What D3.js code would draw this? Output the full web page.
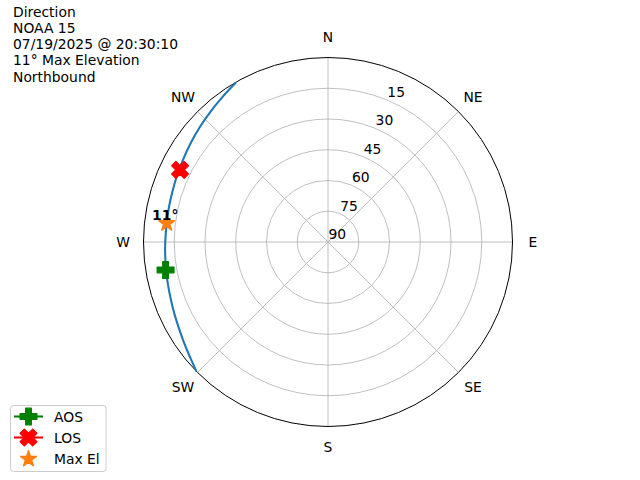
<!DOCTYPE html>
<html><head><meta charset="utf-8">
<script src="https://cdn.jsdelivr.net/npm/d3@7"></script>
<style>body{margin:0;background:#fff} text{font-family:"DejaVu Sans",sans-serif;fill:#000}</style>
</head><body><svg id="c" width="640" height="480"></svg>
<script>
// ---- data ----
const titleLines = ["Direction", "NOAA 15", "07/19/2025 @ 20:30:10", "11° Max Elevation", "Northbound"];
const directions = ["N", "NE", "E", "SE", "S", "SW", "W", "NW"];
const directionAz = [0, 45, 90, 135, 180, 225, 270, 315];
const ringEl = [90, 75, 60, 45, 30, 15];
const trackAz = [225.5, 230, 235, 240, 245, 250, 255, 260, 265, 270, 276, 282, 288, 294, 300, 306, 312, 318, 324, 330];
const trackEl = [0, 2.3, 4.3, 6.0, 7.3, 8.4, 9.2, 9.8, 10.3, 10.6, 10.8, 10.6, 10.2, 9.5, 8.6, 7.4, 6.0, 4.4, 2.5, 0.2];
const markerNames = ["AOS", "LOS", "Max El"];
const markerAz = [260.2, 296.0, 276.6];
const markerEl = [9.6, 9.7, 10.8];
const maxElLabel = "11°";

// ---- layout ----
const W = 640, H = 480, cx = 328, cy = 242, R = 184.5;
const svg = d3.select("#c");
const rScale = d3.scaleLinear().domain([90, 0]).range([0, R]);
const aScale = d3.scaleLinear().domain([0, 360]).range([0, 2 * Math.PI]);
const px = (az, el) => cx + rScale(el) * Math.sin(aScale(az));
const py = (az, el) => cy - rScale(el) * Math.cos(aScale(az));
const ms = 12 * 100 / 72; // marker size px
const mew = 1.39;

const plusPath = (() => { const p = [[-1,-3],[1,-3],[1,-1],[3,-1],[3,1],[1,1],[1,3],[-1,3],[-1,1],[-3,1],[-3,-1],[-1,-1]].map(d => [d[0]/6*ms, d[1]/6*ms]); return "M" + p.join("L") + "Z"; })();
const xPath = (() => { const p = [[-1,-2],[0,-1],[1,-2],[2,-1],[1,0],[2,1],[1,2],[0,1],[-1,2],[-2,1],[-1,0],[-2,-1]].map(d => [d[0]/4*ms, d[1]/4*ms]); return "M" + p.join("L") + "Z"; })();
const starPath = (() => { const p = []; const ro = ms/2, ri = ro*0.381966; for (let i = 0; i < 10; i++) { const r = i % 2 ? ri : ro; const a = i * Math.PI / 5; p.push([r*Math.sin(a), -r*Math.cos(a)]); } return "M" + p.join("L") + "Z"; })();
const markerPaths = [plusPath, xPath, starPath];
const markerColors = ["#008000", "#ff0000", "#ff7f0e"];
const hasLine = [true, true, false];

const g = svg.append("g");
// rings
g.selectAll("circle.ring").data(ringEl.filter(e => e < 90 && e > 0)).enter().append("circle")
  .attr("cx", cx).attr("cy", cy).attr("r", d => rScale(d))
  .attr("fill", "none").attr("stroke", "#b0b0b0").attr("stroke-width", 0.8);
// spokes
g.selectAll("line.spoke").data(directionAz).enter().append("line")
  .attr("x1", cx).attr("y1", cy).attr("x2", d => px(d, 0)).attr("y2", d => py(d, 0))
  .attr("stroke", "#b0b0b0").attr("stroke-width", 0.8);
// outer circle
g.append("circle").attr("cx", cx).attr("cy", cy).attr("r", R).attr("fill", "none").attr("stroke", "#000").attr("stroke-width", 1);
// ring labels
g.selectAll("text.rl").data(ringEl).enter().append("text")
  .attr("x", d => px(22.5, d) + 0.5).attr("y", d => py(22.5, d) - 3)
  .attr("font-size", "13.89px").text(d => d);
// direction labels
g.selectAll("text.dir").data(directions).enter().append("text")
  .attr("x", (d, i) => cx + (R + 20.5) * Math.sin(aScale(directionAz[i])))
  .attr("y", (d, i) => cy - (R + 20.5) * Math.cos(aScale(directionAz[i])))
  .attr("text-anchor", "middle").attr("dominant-baseline", "central")
  .attr("font-size", "13.89px").text(d => d);

// track
const track = trackAz.map((a, i) => [aScale(a), rScale(trackEl[i])]);
g.append("path").attr("transform", `translate(${cx},${cy})`)
  .attr("d", d3.lineRadial().angle(d => d[0]).radius(d => d[1]).curve(d3.curveCatmullRom)(track))
  .attr("fill", "none").attr("stroke", "#1f77b4").attr("stroke-width", 2.08);

// markers
markerNames.forEach((n, i) => {
  g.append("path").attr("d", markerPaths[i])
    .attr("transform", `translate(${px(markerAz[i], markerEl[i])},${py(markerAz[i], markerEl[i])})`)
    .attr("fill", markerColors[i]).attr("stroke", markerColors[i]).attr("stroke-width", mew).attr("stroke-linejoin", "round");
});
// max el label
g.append("text").attr("x", px(markerAz[2], markerEl[2]) - 1.5).attr("y", py(markerAz[2], markerEl[2]) - 3)
  .attr("text-anchor", "middle").attr("font-size", "13.89px").attr("font-weight", "bold").text(maxElLabel);

// title
svg.selectAll("text.title").data(titleLines).enter().append("text")
  .attr("x", 13).attr("y", (d, i) => 16.7 + i * 16.25).attr("font-size", "13.89px").text(d => d);

// legend
const lg = svg.append("g");
lg.append("rect").attr("x", 10.5).attr("y", 405.5).attr("width", 95.5).attr("height", 66).attr("rx", 3)
  .attr("fill", "#fff").attr("fill-opacity", 0.8).attr("stroke", "#cccccc").attr("stroke-width", 1);
const legY = [416.5, 437.5, 459];
markerNames.forEach((n, i) => {
  if (hasLine[i]) lg.append("line").attr("x1", 14).attr("x2", 43).attr("y1", legY[i]).attr("y2", legY[i])
    .attr("stroke", markerColors[i]).attr("stroke-width", 2.08);
  lg.append("path").attr("d", markerPaths[i]).attr("transform", `translate(28.5,${legY[i]})`)
    .attr("fill", markerColors[i]).attr("stroke", markerColors[i]).attr("stroke-width", mew).attr("stroke-linejoin", "round");
  lg.append("text").attr("x", 54).attr("y", legY[i]).attr("dominant-baseline", "central")
    .attr("font-size", "13.89px").text(n);
});
</script></body></html>
